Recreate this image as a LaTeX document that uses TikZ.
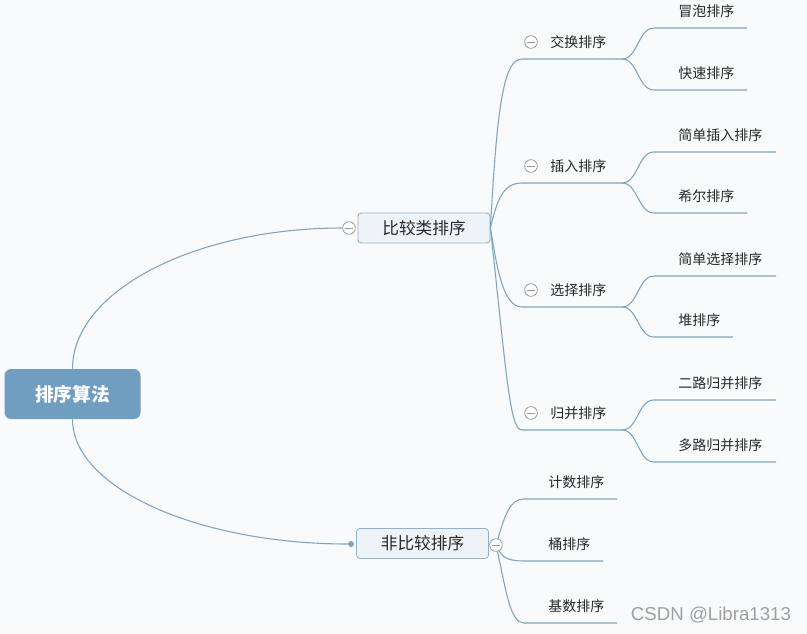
\documentclass[tikz,border=0pt]{standalone}
\usepackage{fontspec}
\setmainfont{Noto Sans CJK SC}
\newfontfamily\wmfont{Liberation Sans}
\usepackage{tikz}
\usetikzlibrary{positioning}
\definecolor{linkblue}{RGB}{125,164,192}
\definecolor{rootblue}{RGB}{112,158,192}
\definecolor{boxfill}{RGB}{238,243,247}
\definecolor{boxline}{RGB}{146,178,202}
\definecolor{bggray}{RGB}{248,250,251}
\definecolor{darkgray}{RGB}{40,40,40}

\begin{document}
\begin{tikzpicture}[x=0.75pt, y=-0.75pt,
  root/.style={fill=rootblue, rounded corners=5pt, minimum width=102pt,
               minimum height=37.5pt, text=white, font=\fontsize{14}{16}\selectfont\bfseries},
  topic/.style={draw=boxline, fill=boxfill, rounded corners=2.5pt, line width=0.6pt,
                minimum width=99pt, minimum height=22.5pt, text=darkgray,
                font=\fontsize{12.5}{14}\selectfont},
  lbl/.style={anchor=west, inner sep=0pt, text=darkgray, font=\fontsize{10.5}{12}\selectfont},
  fold/.style={circle, draw=gray!80, fill=white, line width=0.6pt, minimum size=9.5pt,
               inner sep=0pt, path picture={\draw[gray!80, line width=0.6pt]
               ([xshift=1.6pt]path picture bounding box.west) --
               ([xshift=-1.6pt]path picture bounding box.east);}},
  dot/.style={circle, fill=linkblue, minimum size=4.5pt, inner sep=0pt},
  link/.style={draw=linkblue, line width=0.8pt},
  wmark/.style={text=gray!75, font=\wmfont\fontsize{14}{16}\selectfont}]
  \fill[bggray] (0,0) rectangle (807,633);
  \useasboundingbox (0,0) rectangle (807,633);

  \node[root] (sort) at (72.5,394) {排序算法};
  \node[topic] (cmp) at (424,228) {比较类排序};
  \node[topic] (non) at (422.5,543.5) {非比较排序};
  \node[fold] (cmpfold) at (349,228) {};
  \node[dot]  (nondot)  at (351,544) {};
  \node[fold] (nonfold) at (496,545) {};

  \draw[link] (sort.north) .. controls +(0,-78) and +(-147,0) .. (cmpfold.west);
  \draw[link] (sort.south) .. controls +(0,69) and +(-152,0) .. (nondot);

  % second level
  \coordinate (swapL) at (522,59);  \coordinate (swapR) at (622,59);
  \coordinate (insL)  at (522,183); \coordinate (insR)  at (622,183);
  \coordinate (selL)  at (522,307); \coordinate (selR)  at (622,307);
  \coordinate (mrgL)  at (522,430); \coordinate (mrgR)  at (622,430);
  \node[lbl] (swap) at (550,42)  {交换排序};
  \node[lbl] (ins)  at (550,166) {插入排序};
  \node[lbl] (sel)  at (550,290) {选择排序};
  \node[lbl] (mrg)  at (550,413) {归并排序};
  \node[fold] (swapfold) at (531,42)  {};
  \node[fold] (insfold)  at (531,166) {};
  \node[fold] (selfold)  at (531,290) {};
  \node[fold] (mrgfold)  at (531,413) {};
  \draw[link] (cmp.east) .. controls (497,110) and (503,59)  .. (swapL) -- (swapR);
  \draw[link] (cmp.east) .. controls (497,200) and (503,183) .. (insL)  -- (insR);
  \draw[link] (cmp.east) .. controls (497,268) and (503,307) .. (selL)  -- (selR);
  \draw[link] (cmp.east) .. controls (507,380) and (510,430) .. (mrgL)  -- (mrgR);

  % leaves
  \coordinate (bubL) at (654,28);  \coordinate (bubR) at (747,28);
  \coordinate (qckL) at (654,90);  \coordinate (qckR) at (747,90);
  \coordinate (sinL) at (654,152); \coordinate (sinR) at (776,152);
  \coordinate (shlL) at (654,213); \coordinate (shlR) at (747,213);
  \coordinate (sslL) at (654,276); \coordinate (sslR) at (776,276);
  \coordinate (hepL) at (654,337); \coordinate (hepR) at (733,337);
  \coordinate (twoL) at (654,400); \coordinate (twoR) at (776,400);
  \coordinate (mulL) at (654,462); \coordinate (mulR) at (776,462);
  \node[lbl] (bub) at (678,11)  {冒泡排序};
  \node[lbl] (qck) at (678,73)  {快速排序};
  \node[lbl] (sin) at (678,135) {简单插入排序};
  \node[lbl] (shl) at (678,196) {希尔排序};
  \node[lbl] (ssl) at (678,259) {简单选择排序};
  \node[lbl] (hep) at (678,320) {堆排序};
  \node[lbl] (two) at (678,383) {二路归并排序};
  \node[lbl] (mul) at (678,445) {多路归并排序};
  \draw[link] (swapR) .. controls +(16,0) and +(-16,0) .. (bubL) -- (bubR);
  \draw[link] (swapR) .. controls +(16,0) and +(-16,0) .. (qckL) -- (qckR);
  \draw[link] (insR)  .. controls +(16,0) and +(-16,0) .. (sinL) -- (sinR);
  \draw[link] (insR)  .. controls +(16,0) and +(-16,0) .. (shlL) -- (shlR);
  \draw[link] (selR)  .. controls +(16,0) and +(-16,0) .. (sslL) -- (sslR);
  \draw[link] (selR)  .. controls +(16,0) and +(-16,0) .. (hepL) -- (hepR);
  \draw[link] (mrgR)  .. controls +(16,0) and +(-16,0) .. (twoL) -- (twoR);
  \draw[link] (mrgR)  .. controls +(16,0) and +(-16,0) .. (mulL) -- (mulR);

  % non-comparison
  \coordinate (cntL) at (524,499); \coordinate (cntR) at (617,499);
  \coordinate (bktL) at (524,561); \coordinate (bktR) at (603,561);
  \coordinate (radL) at (524,623); \coordinate (radR) at (617,623);
  \node[lbl] (cnt) at (548,482) {计数排序};
  \node[lbl] (bkt) at (548,544) {桶排序};
  \node[lbl] (rad) at (548,606) {基数排序};
  \draw[link] (nonfold) .. controls (505,515) and (510,499) .. (cntL) -- (cntR);
  \draw[link] (nonfold) .. controls (503,558) and (510,561) .. (bktL) -- (bktR);
  \draw[link] (nonfold) .. controls (506,590) and (510,623) .. (radL) -- (radR);

  \node[wmark] (csdn) at (711,615) {CSDN @Libra1313};
\end{tikzpicture}
\end{document}
